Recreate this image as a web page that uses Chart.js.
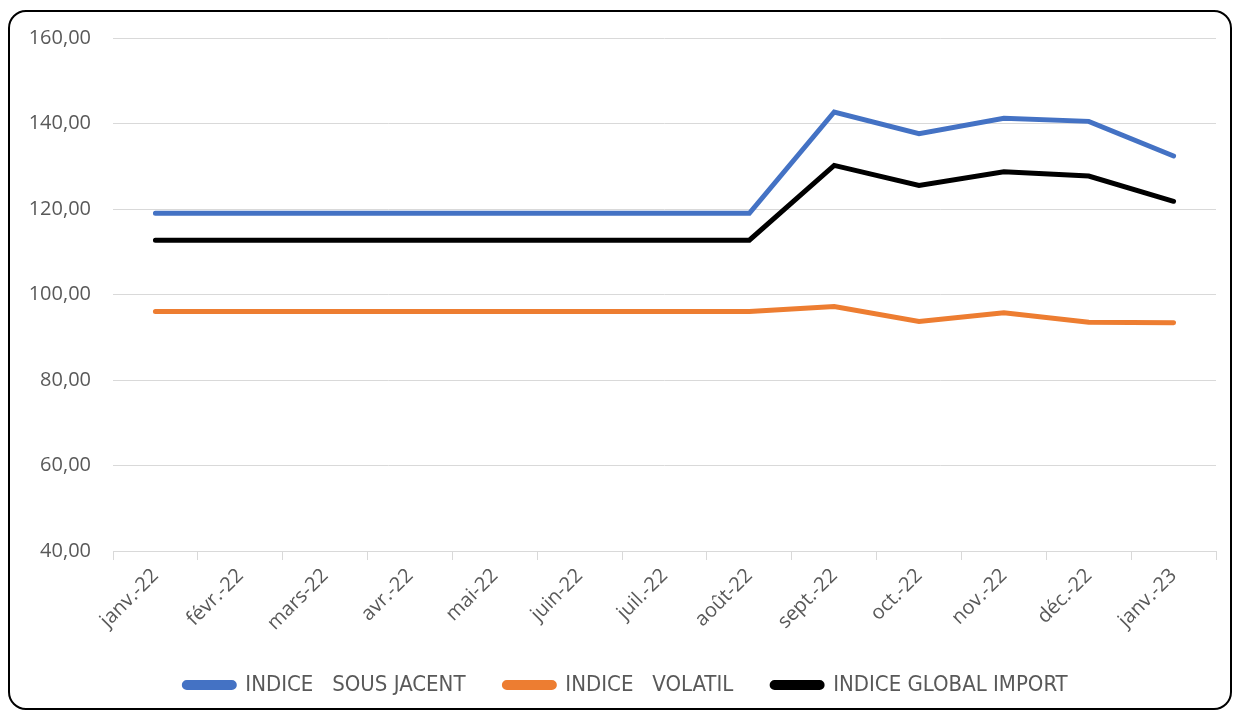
<!DOCTYPE html>
<html>
<head>
<meta charset="utf-8">
<script src="https://cdn.jsdelivr.net/npm/chart.js@4"></script>
<style>
  html, body { margin: 0; padding: 0; background: #fff; }
  #wrap { position: relative; width: 1236px; height: 715px; overflow: hidden; }
  #frame {
    position: absolute; left: 8px; top: 10px; width: 1224px; height: 700px;
    border: 2.5px solid #000; border-radius: 18px; box-sizing: border-box;
  }
  #myChart { position: absolute; left: 0; top: 0; }
</style>
</head>
<body>
<div id="wrap">
  <div id="frame"></div>
  <canvas id="myChart" width="1236" height="715"></canvas>
</div>
<script>
const months = ["janv.-22", "févr.-22", "mars-22", "avr.-22", "mai-22", "juin-22", "juil.-22",
  "août-22", "sept.-22", "oct.-22", "nov.-22", "déc.-22", "janv.-23"];

const sousJacent = [119.0, 119.0, 119.0, 119.0, 119.0, 119.0, 119.0, 119.0, 142.7, 137.6, 141.2, 140.5, 132.4];
const volatil = [96.0, 96.0, 96.0, 96.0, 96.0, 96.0, 96.0, 96.0, 97.2, 93.7, 95.7, 93.5, 93.4];
const globalImport = [112.7, 112.7, 112.7, 112.7, 112.7, 112.7, 112.7, 112.7, 130.2, 125.5, 128.7, 127.7, 121.8];

const yTicks = [40, 60, 80, 100, 120, 140, 160];

var textColor = "#595959";
var gridColor = "#d9d9d9";

function makeSet(label, data, color) {
  return {
    label: label,
    data: data,
    borderColor: color,
    backgroundColor: color,
    borderWidth: 5,
    pointRadius: 0,
    tension: 0,
    borderCapStyle: "round",
    borderJoinStyle: "miter",
  };
}

// nudge the legend a bit to the right, like the original
var legendShift = {
  id: "legendShift",
  afterLayout: function (chart) {
    chart.legend.left += 18;
    chart.legend.right += 18;
  },
};

new Chart(document.getElementById("myChart"), {
  type: "line",
  data: {
    labels: months,
    datasets: [
      makeSet("INDICE   SOUS JACENT   ", sousJacent, "#4472c4"),
      makeSet("INDICE   VOLATIL   ", volatil, "#ed7d31"),
      makeSet("INDICE GLOBAL IMPORT", globalImport, "#000000"),
    ],
  },
  plugins: [legendShift],
  options: {
    responsive: false,
    animation: false,
    layout: { padding: { left: 0, top: 38, right: 20, bottom: 9 } },
    plugins: {
      tooltip: { enabled: false },
      legend: {
        position: "bottom",
        labels: {
          color: textColor,
          font: { family: "'DejaVu Sans Condensed', 'Open Sans', sans-serif", size: 22 },
          boxWidth: 50,
          boxHeight: 5,
          useBorderRadius: true,
          borderRadius: 2.5,
          padding: 20,
        },
      },
    },
    scales: {
      x: {
        offset: true,
        grid: { display: true, drawOnChartArea: false, offset: true, color: gridColor, tickLength: 9 },
        border: { display: true, color: gridColor, width: 1 },
        ticks: {
          color: textColor,
          font: { family: "'Open Sans', sans-serif", size: 20 },
          maxRotation: 45,
          minRotation: 45,
          autoSkip: false,
          padding: 4,
        },
        afterFit: function (scale) { scale.height = 103; },
      },
      y: {
        min: 40,
        max: 160,
        afterBuildTicks: function (scale) {
          scale.ticks = yTicks.map((v) => ({ value: v }));
        },
        grid: { color: gridColor, drawTicks: false, lineWidth: 1 },
        border: { display: false },
        ticks: {
          color: textColor,
          font: { family: "'Open Sans', sans-serif", size: 20 },
          padding: 22,
          callback: (v) => v.toFixed(2).replace(".", ","),
        },
        afterFit: function (scale) { scale.width = 113; },
      },
    },
  },
});
</script>
</body>
</html>
